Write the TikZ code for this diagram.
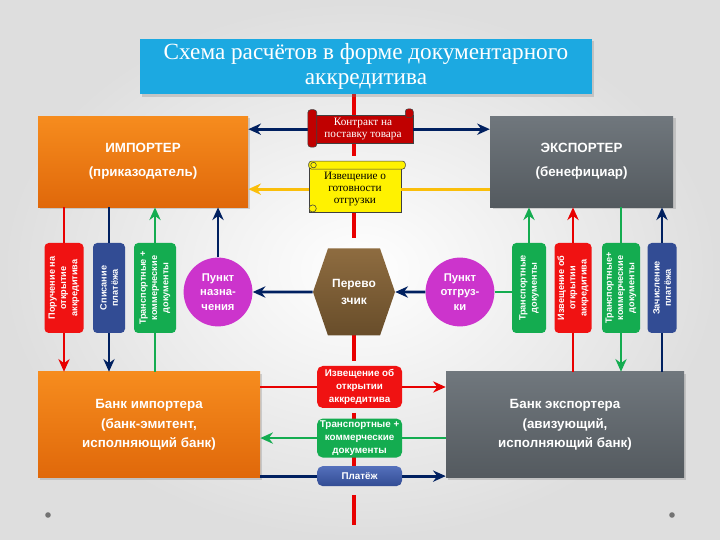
\documentclass[tikz,border=0pt]{standalone}
\usepackage{fontspec}
\setmainfont{Liberation Serif}
\setsansfont{Liberation Sans}
\usepackage{tikz}
\usetikzlibrary{shapes, shapes.symbols, arrows.meta, positioning, calc, shadows}
\definecolor{skyblue}{RGB}{28,169,225}
\definecolor{navy}{RGB}{0,32,96}
\definecolor{boxred}{RGB}{240,18,18}
\definecolor{linered}{RGB}{232,0,0}
\definecolor{scrollred}{RGB}{192,0,0}
\definecolor{grn}{RGB}{20,172,80}
\definecolor{gold}{RGB}{250,190,10}
\definecolor{orangetop}{RGB}{246,140,30}
\definecolor{orangebot}{RGB}{224,104,10}
\definecolor{greytop}{RGB}{112,119,125}
\definecolor{greybot}{RGB}{84,90,95}
\definecolor{bluetop}{RGB}{84,112,188}
\definecolor{bluebot}{RGB}{50,76,148}
\definecolor{punktpink}{RGB}{204,52,204}
\definecolor{browntop}{RGB}{142,108,64}
\definecolor{brownbot}{RGB}{104,77,42}

\begin{document}
\begin{tikzpicture}[
        titlebox/.style={rectangle, fill=skyblue, text=white, align=center,
            minimum width=11.3cm, minimum height=1.325cm,
            font=\fontsize{16.5}{18}\selectfont,
            drop shadow={opacity=0.3, shadow xshift=0.06cm, shadow yshift=-0.06cm}},
        bigbox/.style={rectangle, text=white, align=center,
            font=\sffamily\bfseries\fontsize{9.5}{17}\selectfont,
            drop shadow={opacity=0.3, shadow xshift=0.06cm, shadow yshift=-0.06cm}},
        orangebox/.style={bigbox, top color=orangetop, bottom color=orangebot},
        greybox/.style={bigbox, top color=greytop, bottom color=greybot},
        vbox/.style={rectangle, rounded corners=3pt, rotate=90,
            minimum width=2.25cm, inner sep=1pt, text=white, align=center,
            font=\sffamily\bfseries\fontsize{6.5}{8}\selectfont},
        hbox/.style={rectangle, rounded corners=4pt, minimum width=2.125cm,
            inner sep=1pt, text=white, align=center,
            font=\sffamily\bfseries\fontsize{7}{9}\selectfont},
        punkt/.style={circle, fill=punktpink, minimum size=1.72cm, inner sep=0pt,
            text=white, align=center,
            font=\sffamily\bfseries\fontsize{8}{10.5}\selectfont},
        hexa/.style={signal, signal to=east and west, signal pointer angle=142,
            minimum width=2.05cm, minimum height=2.175cm, inner sep=0pt,
            top color=browntop, bottom color=brownbot, text=white, align=center,
            font=\sffamily\bfseries\fontsize{8.5}{12}\selectfont},
        scroll/.style={rectangle, draw=black!75, thin, align=center, inner sep=1pt,
            font=\fontsize{8}{8.6}\selectfont},
        arrow/.style={-{Stealth[length=9pt, width=8pt]}, line width=2pt},
        link/.style={line width=2pt}
    ]
    % background
    \useasboundingbox (0,0) rectangle (18,13.5);
    \shade[inner color=white, outer color=black!13] (0,0) rectangle (18,13.5);
    \fill[black!55] (1.2,0.625) circle (0.07);
    \fill[black!55] (16.8,0.625) circle (0.07);

    % dashed axis
    \coordinate (axistop) at (8.85,11.375);
    \coordinate (axisbot) at (8.85,0.375);
    \draw[linered, line width=3.5pt, dash pattern=on 0.75cm off 0.275cm]
    (axistop) -- (axisbot);

    % main boxes
    \node[titlebox] (title) at (9.15,11.84)
    {Схема расчётов в форме документарного\\аккредитива};
    \node[orangebox, minimum width=5.25cm, minimum height=2.275cm] (importer)
    at (3.575,9.46) {ИМПОРТЕР\\(приказодатель)};
    \node[greybox, minimum width=4.575cm, minimum height=2.275cm] (exporter)
    at (14.54,9.46) {ЭКСПОРТЕР\\(бенефициар)};
    \node[orangebox, minimum width=5.55cm, minimum height=2.65cm,
        font=\sffamily\bfseries\fontsize{9.5}{14}\selectfont] (bankimp)
    at (3.725,2.875) {Банк импортера\\(банк-эмитент,\\исполняющий банк)};
    \node[greybox, minimum width=5.95cm, minimum height=2.65cm,
        font=\sffamily\bfseries\fontsize{9.5}{14}\selectfont] (bankexp)
    at (14.125,2.875) {Банк экспортера\\(авизующий,\\исполняющий банк)};

    % scrolls
    \node[scroll, fill=scrollred, text=white, minimum width=2.5cm,
        minimum height=0.72cm] (contract) at (9.075,10.27)
    {Контракт на\\поставку товара};
    \node[scroll, fill=yellow, minimum width=2.3cm, minimum height=1.15cm,
        below=0.55cm of contract, xshift=-0.2cm] (notice)
    {Извещение о\\готовности\\отгрузки};

    % carrier and points
    \node[hexa] (carrier) at (8.85,6.2) {Перево\\зчик};
    \node[punkt, left=1.5cm of carrier] (destpt) {Пункт\\назна-\\чения};
    \node[punkt, right=0.75cm of carrier] (shippt) {Пункт\\отгруз-\\ки};

    % vertical documents, importer side
    \node[vbox, fill=boxred, minimum height=0.975cm] (order) at (1.6,6.3)
    {Поручение на\\открытие\\аккредитива};
    \node[vbox, fill=bluebot, minimum height=0.8cm] (debit) at (2.725,6.3)
    {Списание\\платёжа};
    \node[vbox, fill=grn, minimum height=1.05cm] (docsimp) at (3.875,6.3)
    {Транспортные +\\коммерческие\\документы};

    % vertical documents, exporter side
    \node[vbox, fill=grn, minimum height=0.85cm] (transdoc) at (13.225,6.3)
    {Транспортные\\документы};
    \node[vbox, fill=boxred, minimum height=0.925cm] (advice) at (14.325,6.3)
    {Извещение об\\открытии\\аккредитива};
    \node[vbox, fill=grn, minimum height=0.95cm] (docsexp) at (15.525,6.3)
    {Транспортные+\\коммерческие\\документы};
    \node[vbox, fill=bluebot, minimum height=0.725cm] (credit) at (16.55,6.3)
    {Зачисление\\платёжа};

    % between the banks
    \node[hbox, fill=boxred, minimum height=1.05cm] (bankadvice) at (8.99,3.825)
    {Извещение об\\открытии\\аккредитива};
    \node[hbox, fill=grn, minimum height=0.975cm, below=0.25cm of bankadvice]
    (bankdocs) {Транспортные +\\коммерческие\\документы};
    \node[hbox, top color=bluetop, bottom color=bluebot, minimum height=0.5cm,
        below=0.2cm of bankdocs] (payment) {Платёж};

    % top connectors
    \draw[arrow, navy] (contract) -- (importer.east |- contract);
    \draw[arrow, navy] (contract) -- (exporter.west |- contract);
    \draw[arrow, gold] (notice) -- (importer.east |- notice);
    \draw[link, gold] (exporter.west |- notice) -- (notice);

    % carrier connectors
    \draw[arrow, navy] (carrier) -- (destpt);
    \draw[arrow, navy] (shippt) -- (carrier);
    \draw[arrow, navy] (destpt.north) -- (importer.south -| destpt.north);
    \draw[link, grn] (shippt.east) -- (shippt.east -| transdoc.north);

    % importer side
    \draw[link, linered] (importer.south -| order) -- (order.east);
    \draw[arrow, linered] (order.west) -- (bankimp.north -| order);
    \draw[link, navy] (importer.south -| debit) -- (debit.east);
    \draw[arrow, navy] (debit.west) -- (bankimp.north -| debit);
    \draw[link, grn] (bankimp.north -| docsimp) -- (docsimp.west);
    \draw[arrow, grn] (docsimp.east) -- (importer.south -| docsimp);

    % exporter side
    \draw[arrow, grn] (transdoc.east) -- (exporter.south -| transdoc);
    \draw[link, linered] (bankexp.north -| advice) -- (advice.west);
    \draw[arrow, linered] (advice.east) -- (exporter.south -| advice);
    \draw[link, grn] (exporter.south -| docsexp) -- (docsexp.east);
    \draw[arrow, grn] (docsexp.west) -- (bankexp.north -| docsexp);
    \draw[link, navy] (bankexp.north -| credit) -- (credit.west);
    \draw[arrow, navy] (credit.east) -- (exporter.south -| credit);

    % bank connectors
    \draw[link, linered] (bankimp.east |- bankadvice) -- (bankadvice);
    \draw[arrow, linered] (bankadvice) -- (bankexp.west |- bankadvice);
    \draw[link, grn] (bankexp.west |- bankdocs) -- (bankdocs);
    \draw[arrow, grn] (bankdocs) -- (bankimp.east |- bankdocs);
    \draw[link, navy] (bankimp.east |- payment) -- (payment);
    \draw[arrow, navy] (payment) -- (bankexp.west |- payment);

    % scroll rolls
    \draw[fill=scrollred, draw=black!75, rounded corners=2pt]
    ($(contract.north west)+(-0.12,0.12)$) rectangle ($(contract.south west)+(0.1,-0.08)$);
    \draw[fill=scrollred, draw=black!75, rounded corners=2pt]
    ($(contract.north east)+(-0.2,0.14)$) rectangle ($(contract.north east)+(0,-0.08)$);
    \draw[fill=yellow, draw=black!75, rounded corners=2pt]
    ($(notice.north west)+(0,0.12)$) rectangle ($(notice.north east)+(0.1,-0.08)$);
    \draw[fill=yellow, draw=black!75] ($(notice.north west)+(0.12,0.02)$) circle (0.07);
    \draw[fill=yellow, draw=black!75] ($(notice.south west)+(0.1,0.1)$) circle (0.09);
\end{tikzpicture}
\end{document}
